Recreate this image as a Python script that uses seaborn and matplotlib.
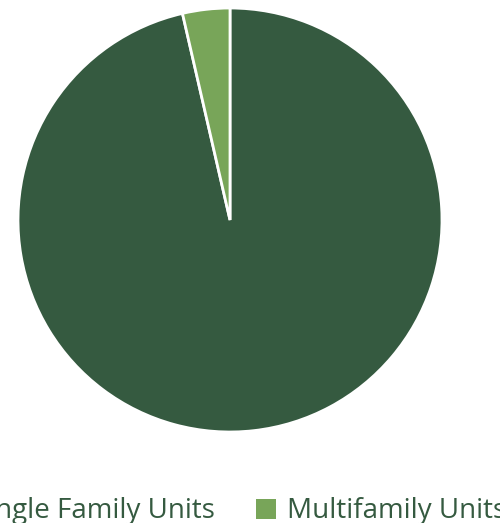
import matplotlib
matplotlib.use("Agg")
import matplotlib.pyplot as plt
import seaborn as sns
from matplotlib.patches import Patch

categories = ["Single Family Units", "Multifamily Units"]
values = [96.4, 3.6]
colors = ["#355a40", "#78a559"]
text_color = "#355a40"

sns.set_theme(style="white")
plt.rcParams["font.family"] = ["Open Sans", "DejaVu Sans"]

fig = plt.figure(figsize=(5.0, 5.23), dpi=100)
ax = fig.add_axes([18/500, (523-432)/523, 424/500, 424/523])
ax.pie(values, colors=sns.color_palette(colors), startangle=90, counterclock=False,
       wedgeprops=dict(edgecolor="white", linewidth=2), radius=1)
ax.set_xlim(-1, 1)
ax.set_ylim(-1, 1)
ax.set_aspect("equal")
ax.axis("off")

handles = [Patch(facecolor=c, edgecolor="none") for c in colors]
leg = fig.legend(handles, categories, loc="lower center", bbox_to_anchor=(224/500, -0.01),
                 ncol=2, frameon=False, fontsize=20, handlelength=0.75, handleheight=0.75,
                 handletextpad=0.38, columnspacing=1.45, borderpad=0.1, borderaxespad=0)
for t in leg.get_texts():
    t.set_color(text_color)

fig.savefig("out.png", dpi=100)
